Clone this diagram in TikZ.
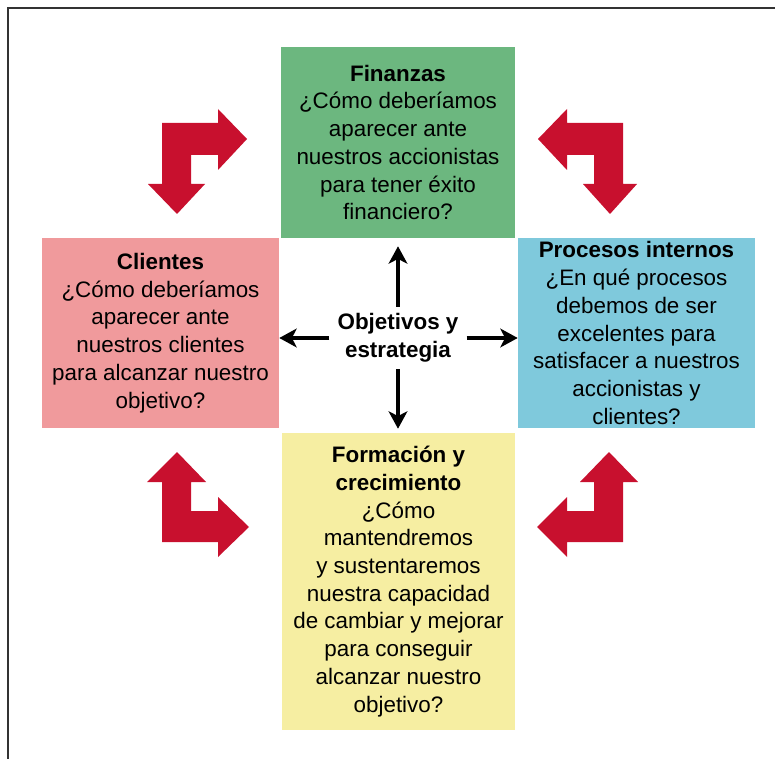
\documentclass[tikz,border=0pt]{standalone}
\usepackage{fontspec}
\setmainfont{Liberation Sans}
\usepackage{tikz}
\usetikzlibrary{arrows.meta}

\definecolor{fingreen}{RGB}{108,183,127}
\definecolor{clipink}{RGB}{240,154,156}
\definecolor{problue}{RGB}{127,201,220}
\definecolor{forayellow}{RGB}{246,238,162}
\definecolor{bentred}{RGB}{200,16,46}

\tikzset{
  quad/.style={inner sep=0pt, align=center, font=\fontsize{16.8}{20.8}\selectfont},
  goalarrow/.style={line width=2.8pt, -{Stealth[length=13pt, width=14pt, inset=3.5pt]}},
  bent/.style={fill=bentred}
}

\begin{document}
\begin{tikzpicture}[x=0.75pt, y=-0.75pt]
  \useasboundingbox (0,0) rectangle (775,759);

  % Frame
  \draw[line width=1.5pt, black!80] (8,759) -- (8,8) -- (775,8);

  % Define nodes
  \node[quad, fill=fingreen, minimum width=175.5pt, minimum height=143.25pt]
    (fin) at (398,142.5) {\textbf{Finanzas}\\¿Cómo deberíamos\\aparecer ante\\nuestros accionistas\\para tener éxito\\financiero?};
  \node[quad, fill=clipink, minimum width=177.75pt, minimum height=142.5pt]
    (cli) at (160.5,333) {\textbf{Clientes}\\¿Cómo deberíamos\\aparecer ante\\nuestros clientes\\para alcanzar nuestro\\objetivo?};
  \node[quad, fill=problue, minimum width=177.75pt, minimum height=142.5pt]
    (pro) at (636.5,333) {\textbf{Procesos internos}\\¿En qué procesos\\debemos de ser\\excelentes para\\satisfacer a nuestros\\accionistas y\\clientes?};
  \node[quad, fill=forayellow, minimum width=174.75pt, minimum height=222.75pt]
    (for) at (398.5,581.5) {\textbf{Formación y}\\\textbf{crecimiento}\\¿Cómo\\mantendremos\\y sustentaremos\\nuestra capacidad\\de cambiar y mejorar\\para conseguir\\alcanzar nuestro\\objetivo?};
  \node[quad, font=\fontsize{16.8}{20.8}\selectfont\bfseries, inner xsep=6pt, inner ysep=5pt]
    (goal) at (398,338) {Objetivos y\\estrategia};

  % Connect the nodes
  \draw[goalarrow, shorten >=6pt] (goal.north) -- (goal.north |- fin.south);
  \draw[goalarrow, shorten >=3pt] (goal.south) -- (goal.south |- for.north);
  \draw[goalarrow] (goal.west) -- (goal.west -| cli.east);
  \draw[goalarrow] (goal.east) -- (goal.east -| pro.west);

  % Bent arrows
  \fill[bent] (162,123) -- (218,123) -- (218,109) -- (247,139) -- (218,170) -- (218,155)
    -- (191,155) -- (191,184) -- (205,184) -- (177,214) -- (148,184) -- (162,184) -- cycle;
  \fill[bent] (623,123) -- (567,123) -- (567,109) -- (538,139) -- (567,170) -- (567,155)
    -- (594,155) -- (594,184) -- (583,184) -- (610,214) -- (637,184) -- (623,184) -- cycle;
  \fill[bent] (162,542) -- (218,542) -- (218,557) -- (249,527) -- (218,497) -- (218,511)
    -- (191,511) -- (191,482) -- (206,482) -- (177,452) -- (147,482) -- (162,482) -- cycle;
  \fill[bent] (623,542) -- (567,542) -- (567,557) -- (537,527) -- (567,497) -- (567,511)
    -- (594,511) -- (594,482) -- (580,482) -- (609,452) -- (638,482) -- (623,482) -- cycle;

\end{tikzpicture}
\end{document}
